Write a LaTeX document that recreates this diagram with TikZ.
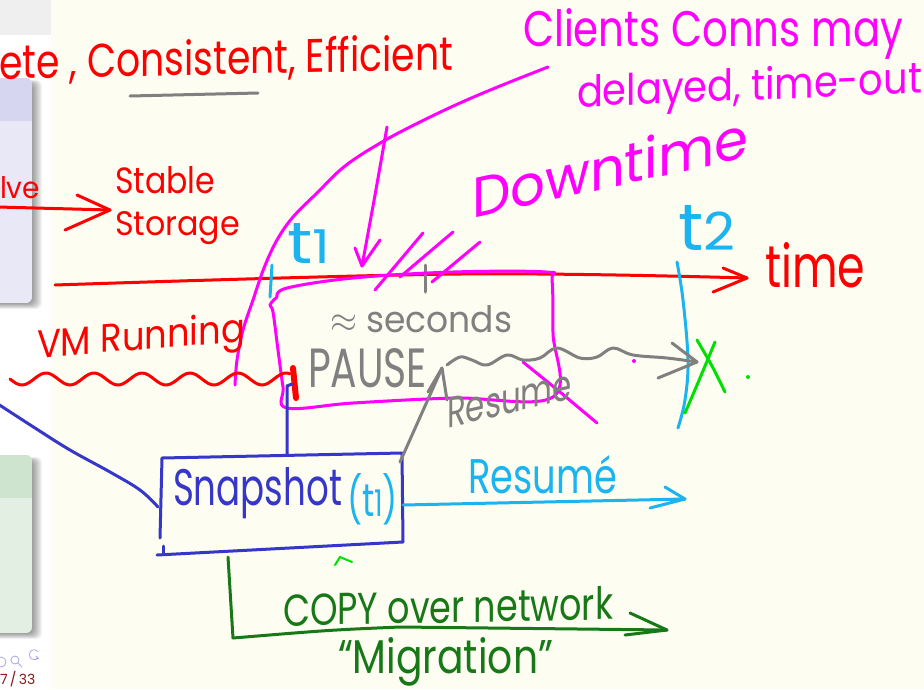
\documentclass[tikz,border=0pt]{standalone}
\usepackage{fontspec}
\setmainfont{Poppins}
\usepackage{graphicx}
\definecolor{paper}{HTML}{FDFDF2}
\definecolor{inkred}{HTML}{FF0000}
\definecolor{inkmag}{HTML}{FF00FF}
\definecolor{inkcyan}{HTML}{1CB4F0}
\definecolor{inkblue}{HTML}{3636C8}
\definecolor{inkgray}{HTML}{808080}
\definecolor{inkdkgreen}{HTML}{187818}
\definecolor{inkgreen}{HTML}{00E000}
\definecolor{barGray}{HTML}{EFEFEF}
\definecolor{lavHead}{HTML}{D6D6F0}
\definecolor{lavBody}{HTML}{E8E8F6}
\definecolor{grnHead}{HTML}{CEE4CE}
\definecolor{grnBody}{HTML}{E3EFE3}
\definecolor{navblue}{HTML}{A8A8E4}
\definecolor{pagered}{HTML}{8B1A1A}
% handwriting-sized text: width, height above baseline, text
\newcommand\hw[3]{\resizebox{#1pt}{#2pt}{#3}}
\begin{document}
\begin{tikzpicture}[x=1pt,y=-1pt,
  pen/.style={line width=3pt,line cap=round,line join=round},
  fatpen/.style={line width=6pt,line cap=round},
  hand/.style={inner sep=0pt,outer sep=0pt,anchor=base west},
  freehand/.style={smooth,tension=0.6}]
\useasboundingbox (0,0) rectangle (924,689);
\fill[paper] (0,0) rectangle (924,689);

% ---- slide strip on the left ----
\fill[white] (0,0) rectangle (51,689);
\fill[barGray] (0,0) rectangle (51,35);
\foreach \d in {0,1,...,9}{
  \fill[black,opacity=0.045,rounded corners=6] (-8,80+0.4*\d) rectangle (42-\d,309-0.6*\d);
  \fill[black,opacity=0.045,rounded corners=6] (-8,457+0.4*\d) rectangle (42-\d,639-0.6*\d);
}
\begin{scope}
  \clip[rounded corners=6] (-8,78) rectangle (32,303);
  \fill[lavBody] (-8,78) rectangle (32,303);
  \fill[lavHead] (-8,78) rectangle (32,121);
\end{scope}
\begin{scope}
  \clip[rounded corners=6] (-8,455) rectangle (32,633);
  \fill[grnBody] (-8,455) rectangle (32,633);
  \fill[grnHead] (-8,455) rectangle (32,498);
\end{scope}
\begin{scope}[navblue,line width=0.8pt]
  \draw (1,662) circle (5);
  \draw (15,660) circle (4) (18,663) -- (22,667);
  \draw (38,658) arc (40:320:5);
  \draw (36,656) -- (38.5,658.5) -- (35,659.5);
\end{scope}
\node[hand,text=pagered,font=\fontsize{14}{14}\selectfont] (page) at (0,684) {7\,/\,33};

% ---- headline ----
\node[hand,text=inkred,yslant=0.02] (motto) at (-1,79) {\hw{454}{36}{ete , Consistent, Efficient}};
\draw[inkgray,pen] (130,96) -- (258,93);

% ---- saving to stable storage ----
\node[hand,text=inkred] (solve) at (0,198) {\hw{40}{22}{lve}};
\coordinate (saveTail) at (-2,207);
\coordinate (saveTip) at (110,210);
\draw[inkred,pen] (saveTail) -- (saveTip);
\draw[inkred,pen] (77,195) -- (saveTip) -- (65,230);
\node[hand,text=inkred] (stable) at (115,193) {\hw{100}{27}{Stable}};
\node[hand,text=inkred] (storage) at (115,235) {\hw{125}{24}{Storage}};

% ---- time axis ----
\coordinate (axisStart) at (55,285);
\coordinate (axisTip) at (747,278);
\draw[inkred,pen] plot[freehand] coordinates {(axisStart) (460,274) (axisTip)};
\draw[inkred,pen] (723,268) -- (axisTip) -- (713,292);
\node[hand,text=inkred] (time) at (765,287) {\hw{100}{45}{time}};
\node[hand,text=inkcyan] (tone) at (287,263) {\hw{43}{40}{t{\footnotesize 1}}};
\draw[inkcyan,pen] (272,265) -- (270,297);
\node[hand,text=inkcyan] (ttwo) at (678,250) {\hw{57}{45}{t{\footnotesize 2}}};
\draw[inkcyan,pen] plot[freehand] coordinates {(677,262) (683,300) (688,360) (685,400) (678,428)};
\draw[inkgray,pen] (425,265) -- (425,292);

% ---- client connections ----
\node[hand,text=inkmag] (clients) at (523,46) {\hw{380}{38}{Clients Conns may}};
\node[hand,text=inkmag,yslant=0.04] (delayed) at (577,107) {\hw{345}{33}{delayed, time-out}};
\node[hand,text=inkmag,yslant=0.22] (downtime) at (472,218) {\hw{276}{43}{Downtime}};
\draw[inkmag,pen] plot[freehand] coordinates {(548,67) (500,86) (460,103) (420,122) (382,142) (345,166) (317,193) (293,217) (277,240) (264,268) (253,300) (243,330) (237,360) (235,385)};
\coordinate (noteTail) at (387,127);
\coordinate (noteTip) at (362,266);
\draw[inkmag,pen] (noteTail) .. controls (376,190) .. (noteTip);
\draw[inkmag,pen] (355,248) -- (noteTip) -- (380,240);
\draw[inkmag,pen] (375,290) -- (423,233);
\draw[inkmag,pen] (400,277) -- (453,232);
\draw[inkmag,pen] (432,282) -- (480,242);
% pause window
\draw[inkmag,pen] plot[freehand] coordinates {(277,297) (270,305) (273,312) (278,350) (283,387) (287,408) (353,403) (453,398) (553,397) (553,333) (552,280) (546,272) (453,272) (353,278) (287,288) (277,297)};
\draw[inkmag,pen] (523,362) -- (560,392) -- (597,423);
\fill[inkmag] (634,361) circle (2);

\node[hand,text=inkgray] (seconds) at (330,332) {\hw{182}{27}{$\approx$ seconds}};
\node[hand,text=inkgray] (pause) at (308,387) {\hw{119}{39}{PAUSE}};

% ---- VM running ----
\node[hand,text=inkred,yslant=0.08] (running) at (37,358) {\hw{208}{30}{VM Running}};
\draw[inkred,pen] plot[domain=10:290,samples=90,smooth] (\x,{379+6*sin(7.5*(\x-10))});
\draw[inkred,fatpen] (293,368) -- (296,398);

% ---- snapshot ----
\node[hand,text=inkblue] (snap) at (173,505) {\hw{169}{38}{Snapshot}};
\node[hand,text=inkcyan] (snapt) at (347,516) {\hw{51}{43}{(t{\footnotesize 1})}};
\coordinate (snapTL) at (162,458);
\coordinate (snapTR) at (402,453);
\coordinate (snapBR) at (403,542);
\coordinate (snapBL) at (157,555);
\draw[inkblue,pen] (160,538) -- (snapTL) -- (snapTR) -- (snapBR) -- (snapBL);
\draw[inkblue,pen] (163,546) -- (163,554);
\coordinate (snapTop) at (287,455);
\coordinate (pauseFoot) at (287,386);
\draw[inkblue,pen] (snapTop) -- (pauseFoot) -- (292,384);
\draw[inkblue,pen] plot[freehand] coordinates {(-2,404) (35,428) (70,450) (110,472) (140,490) (158,507)};

% ---- resume paths ----
\coordinate (grayTail) at (400,462);
\coordinate (grayTip) at (442,368);
\draw[inkgray,pen] (grayTail) -- (grayTip);
\draw[inkgray,pen] (428,392) -- (grayTip) -- (447,400);
\node[hand,text=inkgray,yslant=0.23] (resumeA) at (447,428) {\hw{125}{30}{Resume}};
\coordinate (waveTip) at (697,362);
\draw[inkgray,pen] plot[freehand] coordinates {(447,365) (460,357) (472,360) (487,365) (507,355) (523,360) (540,358) (557,348) (580,358) (597,357) (613,348) (633,355) (667,358) (waveTip)};
\draw[inkgray,pen] (672,343) -- (waveTip) -- (658,378);
\draw[inkgreen,pen] plot[freehand] coordinates {(697,340) (712,366) (725,392)};
\draw[inkgreen,pen] plot[freehand] coordinates {(715,342) (700,378) (685,413)};
\fill[inkgreen] (748,377) circle (2);

\coordinate (cyanTail) at (403,505);
\coordinate (cyanTip) at (685,499);
\draw[inkcyan,pen] (cyanTail) -- (cyanTip);
\draw[inkcyan,pen] (665,487) -- (cyanTip) -- (650,508);
\node[hand,text=inkcyan] (resumeB) at (468,493) {\hw{149}{38}{Resumé}};

% ---- migration ----
\draw[inkgreen,line width=2pt,line cap=round] (335,565) -- (340,557) -- (352,562);
\coordinate (copyStart) at (228,557);
\coordinate (copyCorner) at (233,638);
\coordinate (copyTip) at (667,630);
\draw[inkdkgreen,pen] (copyStart) -- (copyCorner) .. controls (330,630) .. (400,627) -- (copyTip);
\draw[inkdkgreen,pen] (630,613) -- (copyTip) -- (625,635);
\node[hand,text=inkdkgreen,yslant=0.02] (copy) at (283,626) {\hw{330}{33}{COPY over network}};
\node[hand,text=inkdkgreen] (migration) at (338,673) {\hw{215}{36}{“Migration”}};
\end{tikzpicture}
\end{document}
